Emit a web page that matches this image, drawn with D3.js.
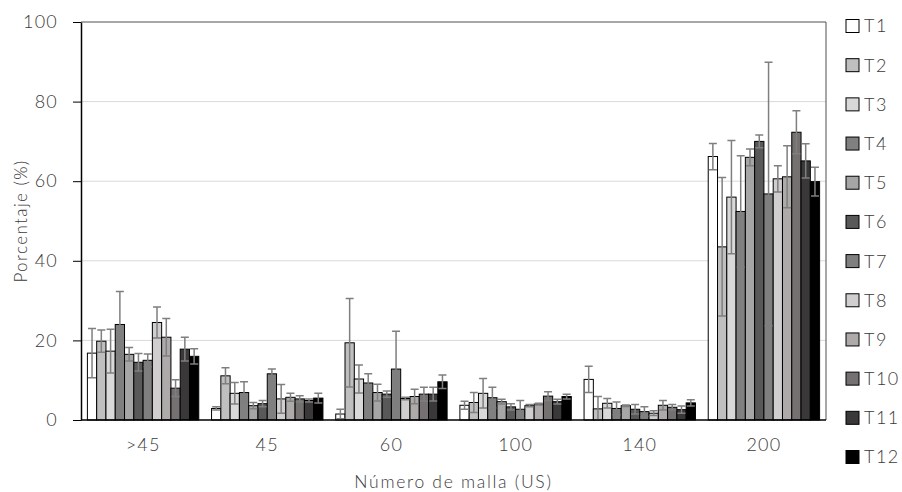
<!DOCTYPE html>
<html>
<head>
<meta charset="utf-8">
<script src="https://cdn.jsdelivr.net/npm/d3@7/dist/d3.min.js"></script>
<style>
  html, body { margin: 0; padding: 0; background: #fff; }
  svg { display: block; font-family: Lato, "Open Sans", sans-serif; font-weight: 300; }
</style>
</head>
<body>
<svg id="chart" width="902" height="492"></svg>
<script>
const categories = [">45", "45", "60", "100", "140", "200"];
const seriesNames = ["T1","T2","T3","T4","T5","T6","T7","T8","T9","T10","T11","T12"];
const yTicks = [0, 20, 40, 60, 80, 100];

// mean percentage per series (rows) and sieve (columns)
const means = [
  [16.8,  2.9,  1.5, 3.7, 10.2, 66.2],
  [19.8, 11.1, 19.4, 4.4,  2.8, 43.5],
  [17.3,  6.7, 10.3, 6.7,  4.2, 56.0],
  [24.0,  6.9,  9.3, 5.6,  2.9, 52.4],
  [16.5,  3.6,  6.9, 4.6,  3.6, 66.0],
  [14.5,  4.1,  6.5, 3.3,  2.7, 70.0],
  [15.0, 11.6, 12.8, 2.7,  2.1, 56.8],
  [24.5,  5.3,  5.4, 3.6,  1.7, 60.6],
  [20.8,  5.7,  5.9, 4.0,  3.7, 61.1],
  [ 8.0,  5.3,  6.5, 6.0,  3.2, 72.3],
  [17.8,  4.9,  6.5, 4.6,  2.6, 65.1],
  [16.0,  5.5,  9.6, 5.9,  4.3, 59.9]
];
// error (± standard deviation)
const errors = [
  [6.2, 0.4,  1.2, 1.0, 3.3,  3.3],
  [2.8, 2.0, 11.1, 2.5, 3.1, 17.4],
  [5.5, 2.7,  3.5, 3.7, 1.2, 14.2],
  [8.3, 2.7,  2.3, 2.6, 1.6, 14.0],
  [1.7, 0.8,  2.1, 0.6, 0.2,  2.1],
  [2.2, 0.8,  0.8, 0.8, 1.2,  1.6],
  [1.6, 1.2,  9.5, 2.2, 1.2, 33.1],
  [3.9, 3.6,  0.3, 0.3, 0.6,  3.3],
  [4.7, 1.0,  1.8, 0.2, 1.2,  7.8],
  [2.1, 0.8,  1.7, 1.1, 0.7,  5.4],
  [3.0, 0.4,  1.7, 0.6, 0.9,  4.3],
  [1.9, 1.2,  1.7, 0.6, 0.8,  3.6]
];

const palette = ["#ffffff","#bfbfbf","#d9d9d9","#808080","#a6a6a6","#595959",
                 "#7f7f7f","#d0cece","#aeaaaa","#767171","#3a3838","#000000"];

const rows = [];
categories.forEach((c, ci) => {
  seriesNames.forEach((s, si) => {
    rows.push({cat: c, series: s, si, value: means[si][ci], err: errors[si][ci]});
  });
});

const svg = d3.select("#chart");
const mLeft = 81, mRight = 826, mTop = 22, mBottom = 420;
const textColor = "#3a3a3a";

const x0 = d3.scaleBand().domain(categories).range([mLeft, mRight])
  .paddingInner(0.103).paddingOuter(0.0515);
const x1 = d3.scaleBand().domain(seriesNames).range([0, x0.bandwidth()]).padding(0);
const y = d3.scaleLinear().domain([0, 100]).range([mBottom, mTop]);
const color = d3.scaleOrdinal().domain(seriesNames).range(palette);

// gridlines
svg.append("g").selectAll("line").data(yTicks.filter(t => t > 0 && t < 100)).join("line")
  .attr("x1", mLeft).attr("x2", mRight)
  .attr("y1", d => y(d)).attr("y2", d => y(d))
  .attr("stroke", "#d9d9d9").attr("stroke-width", 1);

// frame top/right
svg.append("path")
  .attr("d", `M${mLeft},${y(100)}H${mRight}V${y(0)}`)
  .attr("fill", "none").attr("stroke", "#505050").attr("stroke-width", 1);

// bars
svg.append("g").selectAll("rect").data(rows).join("rect")
  .attr("x", d => x0(d.cat) + x1(d.series))
  .attr("y", d => y(d.value))
  .attr("width", x1.bandwidth())
  .attr("height", d => y(0) - y(d.value))
  .attr("fill", d => color(d.series))
  .attr("stroke", "#000").attr("stroke-width", 1);

// error bars
const eg = svg.append("g").attr("stroke", "#7f7f7f").attr("stroke-width", 1.5).attr("fill", "none");
const cap = 4;
eg.selectAll("path").data(rows).join("path")
  .attr("d", d => {
    const cx = x0(d.cat) + x1(d.series) + x1.bandwidth() / 2;
    const yt = y(d.value + d.err), yb = y(Math.max(0, d.value - d.err));
    return `M${cx},${yt}V${yb}M${cx - cap},${yt}H${cx + cap}M${cx - cap},${yb}H${cx + cap}`;
  });

// y axis
const yAxis = svg.append("g").attr("transform", `translate(${mLeft},0)`)
  .call(d3.axisLeft(y).tickValues(yTicks).tickSize(8).tickSizeOuter(0).tickPadding(15));
yAxis.select(".domain").attr("stroke", "#000").attr("stroke-width", 1.5);
yAxis.selectAll(".tick line").attr("stroke", "#000");
yAxis.selectAll("text").attr("font-size", 18).attr("fill", textColor)
  .attr("letter-spacing", 1.2)
  .attr("font-family", "Lato, sans-serif").attr("font-weight", 300);

// x axis
const xAxis = svg.append("g").attr("transform", `translate(0,${mBottom})`)
  .call(d3.axisBottom(x0).tickSize(0).tickPadding(18).tickSizeOuter(0));
xAxis.select(".domain").attr("stroke", "#000").attr("stroke-width", 1.5)
  .attr("d", `M${mLeft},0H${mRight}`);
xAxis.selectAll("text").attr("font-size", 18).attr("fill", textColor)
  .attr("letter-spacing", 1.2)
  .attr("font-family", "Lato, sans-serif").attr("font-weight", 300);

// axis titles
svg.append("text").attr("x", (mLeft + mRight) / 2).attr("y", 488)
  .attr("text-anchor", "middle").attr("font-size", 17.5).attr("fill", textColor)
  .attr("letter-spacing", 1.7)
  .text("Número de malla (US)");
svg.append("text").attr("transform", `translate(27,${(mTop + mBottom) / 2}) rotate(-90)`)
  .attr("text-anchor", "middle").attr("font-size", 17).attr("fill", textColor)
  .attr("letter-spacing", 1.4)
  .text("Porcentaje (%)");

// legend
const ly = d3.scalePoint().domain(seriesNames).range([26, 457]);
const lg = svg.append("g").selectAll("g").data(seriesNames).join("g")
  .attr("transform", d => `translate(846,${ly(d)})`);
lg.append("rect").attr("x", 0).attr("y", -6.5).attr("width", 13).attr("height", 13)
  .attr("fill", d => color(d)).attr("stroke", "#000").attr("stroke-width", 1);
lg.append("text").attr("x", 18).attr("y", 0).attr("dy", "0.36em")
  .attr("font-size", 18).attr("fill", textColor).attr("letter-spacing", 1.5)
  .text(d => d);
</script>
</body>
</html>
